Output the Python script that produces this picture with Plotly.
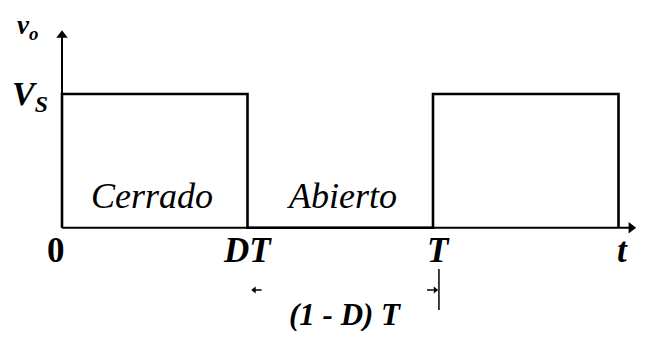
import plotly.graph_objects as go

# Data (time in units of T, voltage in units of Vs)
D = 0.5
T = 1.0
wave_t = [0, 0, D * T, D * T, T, T, T + D * T, T + D * T]
wave_v = [0, 1, 1, 0, 0, 1, 1, 0]

tick_pos = [-0.016, D * T, T + 0.016, 1.512]
tick_labels = ["0", "DT", "T", "t"]

state_labels = ["Cerrado", "Abierto"]
state_x = [0.243, 0.755]
state_y = 0.237

x_axis_end = 1.546
y_axis_end = 1.479

FONT = "Liberation Serif"
BLACK = "#000000"

fig = go.Figure()


def seg(xs, ys, w):
    fig.add_trace(go.Scatter(x=xs, y=ys, mode="lines",
                             line=dict(color=BLACK, width=w),
                             hoverinfo="skip", showlegend=False))


def head(x, y, sym, size):
    fig.add_trace(go.Scatter(x=[x], y=[y], mode="markers",
                             marker=dict(symbol=sym, size=size, color=BLACK,
                                         line=dict(width=0)),
                             hoverinfo="skip", showlegend=False))


# axes with arrowheads
seg([0, x_axis_end - 0.01], [0, 0], 2)
head(x_axis_end - 0.012, 0, "triangle-right", 10)
seg([0, 0], [0, y_axis_end - 0.04], 2)
head(0, y_axis_end - 0.04, "triangle-up", 10)

# waveform
seg(wave_t, wave_v, 2.6)

# tick labels
for xp, lab in zip(tick_pos, tick_labels):
    txt = "<b>0</b>" if lab == "0" else "<b><i>%s</i></b>" % lab
    fig.add_annotation(x=xp, y=-0.174, xref="x", yref="y", showarrow=False,
                       text=txt, font=dict(family=FONT, size=35, color=BLACK))

# state labels
for xp, lab in zip(state_x, state_labels):
    fig.add_annotation(x=xp, y=state_y, xref="x", yref="y", showarrow=False,
                       text="<i>%s</i>" % lab,
                       font=dict(family=FONT, size=36, color=BLACK))

# y labels
fig.add_annotation(x=-0.086, y=0.985, xref="x", yref="y", showarrow=False,
                   text="<b><i>V<sub>S</sub></i></b>",
                   font=dict(family=FONT, size=34, color=BLACK))
fig.add_annotation(x=-0.094, y=1.6432, xref="x", yref="y", yanchor="top",
                   showarrow=False, text="<b><i>v<sub>o</sub></i></b>",
                   font=dict(family=FONT, size=27, color=BLACK))

# (1 - D) T dimension marks
dim_y = -0.466
seg([D * T + 0.02, D * T + 0.038], [dim_y, dim_y], 1.5)
head(D * T + 0.018, dim_y, "triangle-left", 6)
seg([T - 0.016, T + 0.002], [dim_y, dim_y], 1.5)
head(T + 0.006, dim_y, "triangle-right", 6)
seg([T + 0.016, T + 0.016], [-0.309, -0.615], 1.5)
fig.add_annotation(x=0.763, y=-0.652, xref="x", yref="y", showarrow=False,
                   text="<b><i>(1 - D) T</i></b>",
                   font=dict(family=FONT, size=31, color=BLACK))

# page body has an 8px margin: figure is sized/ranged to land on the same pixels
fig.update_layout(
    width=630, height=323,
    margin=dict(l=0, r=0, t=0, b=0),
    paper_bgcolor="white", plot_bgcolor="white",
    xaxis=dict(range=[-0.14555, 1.55256], visible=False, fixedrange=True),
    yaxis=dict(range=[-0.7727, 1.6432], visible=False, fixedrange=True),
)

fig.write_html("out.html")
